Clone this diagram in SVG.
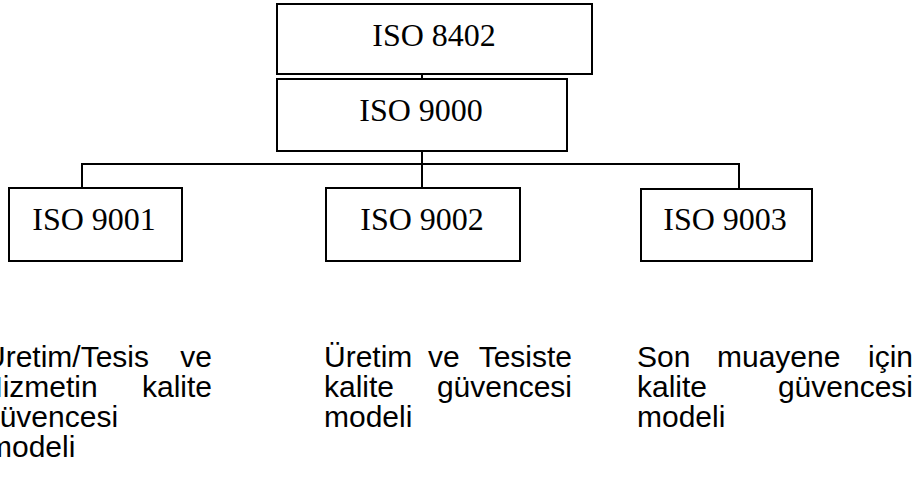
<svg xmlns="http://www.w3.org/2000/svg" width="916" height="488" viewBox="0 0 916 488">
<style>
.box{fill:#fff;stroke:#000;stroke-width:2}
.lbl{font-family:"Liberation Serif","Times New Roman",serif;font-size:32px;fill:#000;text-anchor:middle}
.con{stroke:#000;stroke-width:2;fill:none}
.desc{font-family:"Liberation Sans",Arial,sans-serif;font-size:30px;fill:#000}
.e{text-anchor:end}
</style>
<rect width="916" height="488" fill="#fff"/>
<g id="connectors">
<line class="con" x1="422" y1="63" x2="422" y2="79"/>
<line class="con" x1="422" y1="151" x2="422" y2="188"/>
<line class="con" x1="81" y1="164" x2="740" y2="164"/>
<line class="con" x1="82" y1="164" x2="82" y2="188"/>
<line class="con" x1="739" y1="164" x2="739" y2="189"/>
</g>
<g id="iso8402">
<rect class="box" x="277" y="4" width="315" height="70"/>
<text class="lbl" x="434" y="46">ISO 8402</text>
</g>
<g id="iso9000">
<rect class="box" x="277" y="79" width="290" height="72"/>
<text class="lbl" x="421" y="121">ISO 9000</text>
</g>
<g id="iso9001">
<rect class="box" x="9" y="188" width="173" height="73"/>
<text class="lbl" x="94" y="230">ISO 9001</text>
</g>
<g id="iso9002">
<rect class="box" x="326" y="188" width="194" height="73"/>
<text class="lbl" x="422" y="230">ISO 9002</text>
</g>
<g id="iso9003">
<rect class="box" x="641" y="189" width="171" height="72"/>
<text class="lbl" x="725" y="230">ISO 9003</text>
</g>
<g id="desc9001" class="desc">
<text x="-16" y="367">Üretim/Tesis</text>
<text class="e" x="212" y="367">ve</text>
<text x="-19" y="397">Hizmetin</text>
<text class="e" x="212" y="397">kalite</text>
<text x="-17" y="427">güvencesi</text>
<text x="-13" y="457">modeli</text>
</g>
<g id="desc9002" class="desc">
<text x="324" y="367">Üretim</text>
<text x="428" y="367">ve</text>
<text class="e" x="572" y="367">Tesiste</text>
<text x="324" y="397">kalite</text>
<text class="e" x="572" y="397">güvencesi</text>
<text x="324" y="427">modeli</text>
</g>
<g id="desc9003" class="desc">
<text x="637" y="367">Son</text>
<text x="717" y="367">muayene</text>
<text class="e" x="913" y="367">için</text>
<text x="637" y="397">kalite</text>
<text class="e" x="913" y="397">güvencesi</text>
<text x="637" y="427">modeli</text>
</g>
</svg>
